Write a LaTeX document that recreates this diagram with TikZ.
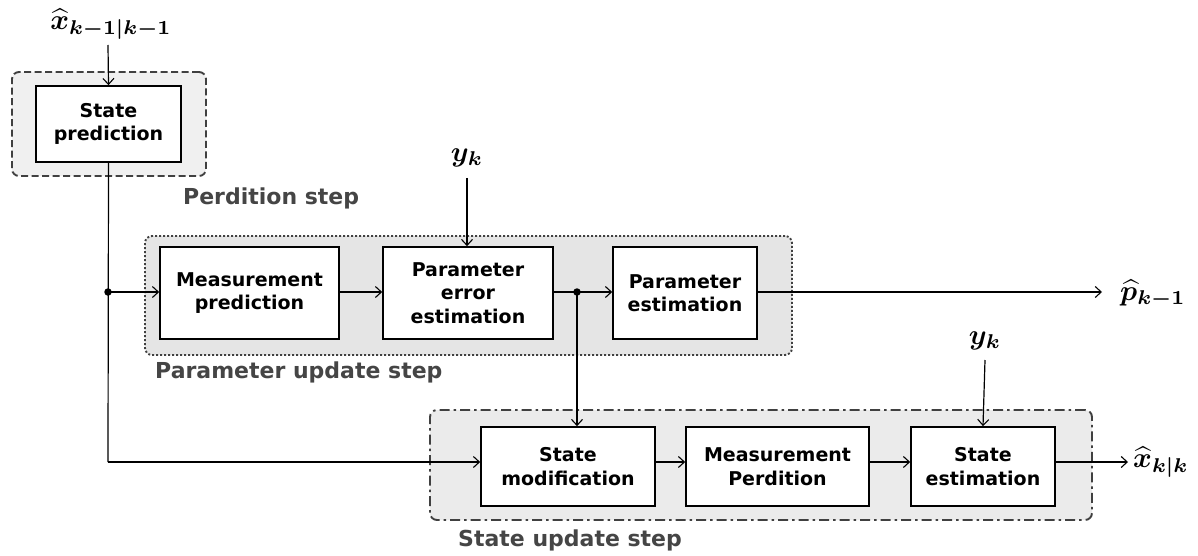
\documentclass[tikz,border=0pt]{standalone}
\usepackage{amsmath,bm,graphicx}
\usepackage{fontspec}
\setmainfont{DejaVu Sans}
\usetikzlibrary{arrows.meta}
\definecolor{grpline}{HTML}{404040}
\definecolor{lbl}{HTML}{454545}
\tikzset{
  blk/.style={draw=black, line width=1.6pt, fill=white, align=center, font=\fontsize{19}{23.5}\selectfont\bfseries, inner sep=0pt},
  grp/.style={draw=grpline, line width=1.9pt, rounded corners=7pt, inner sep=0pt},
  glabel/.style={font=\fontsize{22}{26}\selectfont\bfseries, text=lbl, anchor=west, inner sep=0pt},
  mlabel/.style={font=\normalsize, inner sep=0pt},
  conn/.style={line width=1.2pt, -{Straight Barb[length=6pt,width=11pt,line width=1.1pt]}},
  line/.style={line width=1.2pt},
  dot/.style={circle, fill=black, inner sep=0pt, minimum size=7.5pt}
}
\newcommand{\mylabelmath}[1]{\scalebox{2.85}{$\bm{#1}$}}
\begin{document}
\begin{tikzpicture}[x=1pt,y=-1pt]
\useasboundingbox (0,0) rectangle (1198,556);
% groups
\node[grp, fill=black!6, dash pattern=on 7pt off 3.5pt, minimum width=194pt, minimum height=104pt] (gpred) at (109,124) {};
\node[grp, fill=black!10, dash pattern=on 2pt off 2pt, minimum width=647pt, minimum height=119pt] (gparam) at (468.5,295.5) {};
\node[grp, fill=black!8, dash pattern=on 10pt off 4pt on 2.5pt off 4pt, minimum width=662pt, minimum height=110pt] (gstate) at (761,465) {};
% group labels
\node[glabel] (lpred) at (183,198) {Perdition step};
\node[glabel] (lparam) at (155,372) {Parameter update step};
\node[glabel] (lstate) at (458,540) {State update step};
% blocks
\node[blk, minimum width=145pt, minimum height=76pt] (sp) at (108.5,124) {State\\prediction};
\node[blk, minimum width=179pt, minimum height=92pt] (mp) at (249.5,293) {Measurement\\prediction};
\node[blk, minimum width=170pt, minimum height=92pt] (pe) at (468,293) {Parameter\\error\\estimation};
\node[blk, minimum width=144pt, minimum height=92pt] (pest) at (685,293) {Parameter\\estimation};
\node[blk, minimum width=174pt, minimum height=79pt] (sm) at (568,466.5) {State\\modification};
\node[blk, minimum width=183pt, minimum height=79pt] (mpd) at (777.5,466.5) {Measurement\\Perdition};
\node[blk, minimum width=144pt, minimum height=79pt] (se) at (983,466.5) {State\\estimation};
% math labels
\node[mlabel] (xin) at (111,24) {\mylabelmath{\widehat{x}_{k-1|k-1}}};
\node[mlabel] (y1) at (467,158) {\mylabelmath{y_k}};
\node[mlabel] (y2) at (985,341) {\mylabelmath{y_k}};
\node[mlabel, anchor=west] (pout) at (1120,294) {\mylabelmath{\widehat{p}_{k-1}}};
\node[mlabel, anchor=west] (xout) at (1133,462) {\mylabelmath{\widehat{x}_{k|k}}};
% coordinates
\coordinate (d1) at (108,292);
\coordinate (c1) at (108,462);
\coordinate (d2) at (577,292);
\coordinate (pend) at (1102,292);
\coordinate (xend) at (1128,462);
\coordinate (xsrc) at (108,45);
\coordinate (y1src) at (467,178);
\coordinate (y2src) at (985,360);
\node[dot] (dot1) at (d1) {};
\node[dot] (dot2) at (d2) {};
% connectors
\draw[conn] (xsrc) -- (sp.north);
\draw[line] (sp.south) -- (c1);
\draw[conn] (c1) -- (c1 -| sm.west);
\draw[conn] (d1) -- (d1 -| mp.west);
\draw[conn] (mp.east |- d1) -- (pe.west |- d1);
\draw[conn] (y1src) -- (y1src |- pe.north);
\draw[line] (pe.east |- d2) -- (d2);
\draw[conn] (d2) -- (d2 -| pest.west);
\draw[conn] (d2) -- (d2 |- sm.north);
\draw[conn] (pest.east |- d2) -- (pend);
\draw[conn] (sm.east |- c1) -- (mpd.west |- c1);
\draw[conn] (mpd.east |- c1) -- (se.west |- c1);
\draw[conn] (y2src) -- (se.north);
\draw[conn] (se.east |- c1) -- (xend);
\end{tikzpicture}
\end{document}
